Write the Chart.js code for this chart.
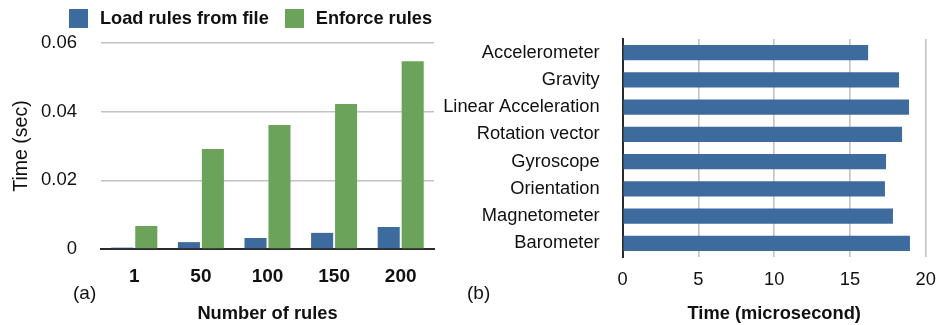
<!DOCTYPE html>
<html>
<head>
<meta charset="utf-8">
<script src="https://cdn.jsdelivr.net/npm/chart.js@4.4.0/dist/chart.umd.min.js"></script>
<style>
  html, body { margin: 0; padding: 0; background: #fff; }
  #wrap { position: relative; width: 937px; height: 325px; overflow: hidden; font-family: "Liberation Sans", Arial, sans-serif; color: #111; }
  canvas { position: absolute; top: 0; }
  #cA { left: 0; }
  #cB { left: 420px; }
  .tag { position: absolute; font-size: 19px; line-height: 20px; }
  .legend { position: absolute; top: 9px; left: 69px; display: flex; align-items: center; font-weight: bold; font-size: 18.2px; line-height: 19px; }
  .legend .sw { width: 19px; height: 19px; display: inline-block; margin-right: 12px; }
  .legend .item { display: flex; align-items: center; margin-right: 16px; }
</style>
</head>
<body>
<div id="wrap">
  <canvas id="cA" width="460" height="325"></canvas>
  <canvas id="cB" width="517" height="325"></canvas>
  <div class="legend" id="legend"></div>
  <div class="tag" style="left:73px; top:283px;">(a)</div>
  <div class="tag" style="left:467px; top:283px;">(b)</div>
</div>
<script>
// (a) rule-processing time per rule-set size
const ruleCounts = ['1', '50', '100', '150', '200'];
const loadRules = [0.0004, 0.0020, 0.0032, 0.0047, 0.0064];
const enforceRules = [0.0067, 0.0291, 0.0361, 0.0422, 0.0547];
const seriesNames = ['Load rules from file', 'Enforce rules'];
const timeTicks = [0, 0.02, 0.04, 0.06];

// (b) per-sensor time
const sensors = ['Accelerometer', 'Gravity', 'Linear Acceleration', 'Rotation vector',
                 'Gyroscope', 'Orientation', 'Magnetometer', 'Barometer'];
const sensorTimes = [16.2, 18.24, 18.9, 18.44, 17.38, 17.31, 17.84, 18.96];

const BLUE = '#3e6b9d';
const GREEN = '#6ca35a';
const GRID = '#c2c2c2';
const AXIS = '#2a2a2a';
const FONT = '"Liberation Sans", Arial, sans-serif';

Chart.defaults.font.family = FONT;
Chart.defaults.color = '#111';
Chart.defaults.animation = false;

// HTML legend built from the series names
const legendEl = document.getElementById('legend');
[[seriesNames[0], BLUE], [seriesNames[1], GREEN]].forEach(([name, col]) => {
  const it = document.createElement('span');
  it.className = 'item';
  const sw = document.createElement('span');
  sw.className = 'sw';
  sw.style.background = col;
  it.appendChild(sw);
  it.appendChild(document.createTextNode(name));
  legendEl.appendChild(it);
});

// keep the plot area fixed: labels overhanging the ends don't shrink it
const noOverhang = (s) => { s.paddingLeft = 0; s.paddingRight = 0; s.paddingTop = 0; s.paddingBottom = 0; };

new Chart(document.getElementById('cA'), {
  type: 'bar',
  data: {
    labels: ruleCounts,
    datasets: [
      { label: seriesNames[0], data: loadRules, backgroundColor: BLUE },
      { label: seriesNames[1], data: enforceRules, backgroundColor: GREEN }
    ]
  },
  options: {
    responsive: false,
    devicePixelRatio: 1,
    layout: { padding: { left: 0, right: 26, top: 43, bottom: 0 } },
    plugins: { legend: { display: false }, tooltip: { enabled: false } },
    datasets: { bar: { categoryPercentage: 0.72, barPercentage: 0.92 } },
    scales: {
      x: {
        grid: { display: false },
        border: { display: true, color: AXIS, width: 2 },
        ticks: { font: { size: 19, weight: 'bold' }, padding: 8, maxRotation: 0 },
        title: { display: true, text: 'Number of rules', font: { size: 18.3, weight: 'bold' }, padding: { top: 6, bottom: 0 } },
        afterFit: (s) => { s.height = 76; noOverhang(s); }
      },
      y: {
        min: 0, max: 0.06,
        afterBuildTicks: (s) => { s.ticks = timeTicks.map(v => ({ value: v })); },
        grid: { color: GRID, lineWidth: 1.6, drawTicks: false },
        border: { display: false },
        ticks: { font: { size: 18.5 }, padding: 24, callback: (v) => String(v) },
        title: { display: true, text: 'Time (sec)', font: { size: 19.5 }, padding: { top: 10, bottom: 0 } },
        afterFit: (s) => { s.width = 101; noOverhang(s); }
      }
    }
  }
});

new Chart(document.getElementById('cB'), {
  type: 'bar',
  data: {
    labels: sensors,
    datasets: [{ data: sensorTimes, backgroundColor: BLUE }]
  },
  options: {
    indexAxis: 'y',
    responsive: false,
    devicePixelRatio: 1,
    layout: { padding: { left: 0, right: 11.3, top: 39, bottom: 0 } },
    plugins: { legend: { display: false }, tooltip: { enabled: false } },
    datasets: { bar: { categoryPercentage: 1, barPercentage: 0.56 } },
    scales: {
      x: {
        min: 0, max: 20,
        ticks: { stepSize: 5, font: { size: 18.3 }, padding: 12 },
        grid: { color: GRID, lineWidth: 1.6, drawTicks: false },
        border: { display: false },
        title: { display: true, text: 'Time (microsecond)', font: { size: 18.3, weight: 'bold' }, padding: { top: 8, bottom: 0 } },
        afterFit: (s) => { s.height = 68; noOverhang(s); }
      },
      y: {
        grid: { display: false, drawTicks: false },
        border: { display: true, color: AXIS, width: 2 },
        ticks: { font: { size: 18.3 }, padding: 23 },
        afterFit: (s) => { s.width = 202.7; noOverhang(s); }
      }
    }
  }
});
</script>
</body>
</html>
